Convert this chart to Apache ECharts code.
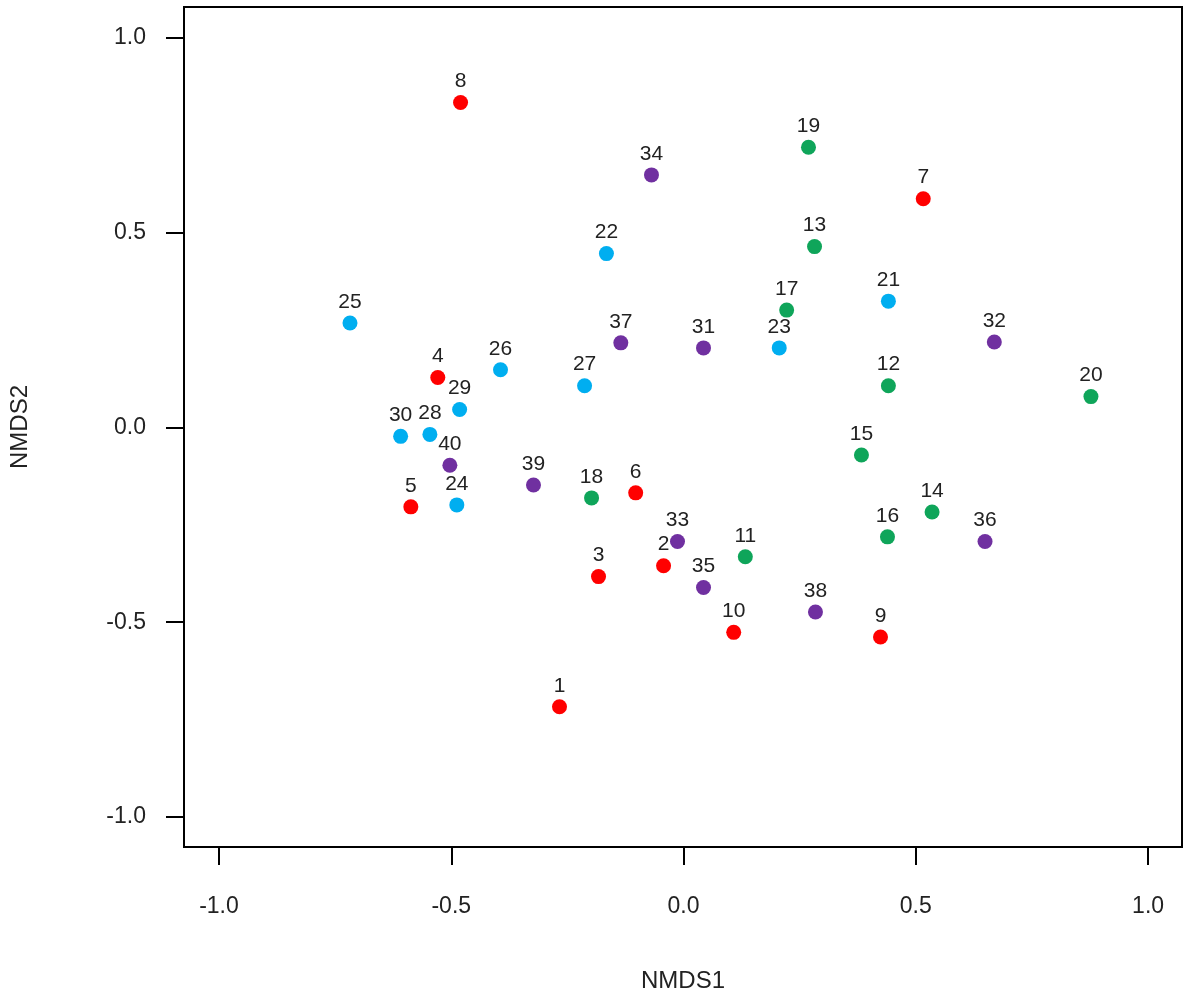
<!DOCTYPE html>
<html>
<head>
<meta charset="utf-8">
<script src="https://cdn.jsdelivr.net/npm/echarts@6/dist/echarts.min.js"></script>
<style>html,body{margin:0;background:#fff}#main{width:1183px;height:998px}</style>
</head>
<body>
<div id="main"></div>
<script>
// sample scores [NMDS1, NMDS2, label]
var groupRed = [[-0.267,-0.717,'1'],[-0.043,-0.355,'2'],[-0.183,-0.383,'3'],[-0.529,0.128,'4'],[-0.587,-0.204,'5'],
  [-0.103,-0.168,'6'],[0.516,0.587,'7'],[-0.48,0.834,'8'],[0.424,-0.538,'9'],[0.108,-0.526,'10']];
var groupGreen = [[0.133,-0.332,'11'],[0.441,0.107,'12'],[0.282,0.464,'13'],[0.535,-0.217,'14'],[0.383,-0.071,'15'],
  [0.439,-0.281,'16'],[0.222,0.301,'17'],[-0.198,-0.181,'18'],[0.269,0.719,'19'],[0.877,0.079,'20']];
var groupBlue = [[0.441,0.324,'21'],[-0.166,0.446,'22'],[0.206,0.204,'23'],[-0.488,-0.199,'24'],[-0.718,0.268,'25'],
  [-0.394,0.148,'26'],[-0.213,0.107,'27'],[-0.546,-0.018,'28'],[-0.482,0.046,'29'],[-0.609,-0.023,'30']];
var groupPurple = [[0.043,0.204,'31'],[0.669,0.219,'32'],[-0.013,-0.293,'33'],[-0.069,0.648,'34'],[0.043,-0.411,'35'],
  [0.649,-0.293,'36'],[-0.135,0.217,'37'],[0.284,-0.474,'38'],[-0.323,-0.148,'39'],[-0.503,-0.097,'40']];
var tickValues = [-1.0, -0.5, 0.0, 0.5, 1.0];

var font = 'Liberation Sans, Arial, sans-serif';
function mk(data, color) {
  return {
    type: 'scatter', data: data, symbolSize: 15,
    itemStyle: {color: color, opacity: 1},
    label: {show: true, position: 'top', distance: 3, color: '#222', fontSize: 21, fontFamily: font,
      formatter: function (p) { return p.value[2]; }}
  };
}
var axisCommon = {
  type: 'value', splitLine: {show: false}, axisLine: {show: false, onZero: false},
  nameTextStyle: {fontSize: 24, color: '#222', fontFamily: font}
};
var option = {
  animation: false,
  grid: {left: 183, top: 7, right: 1, bottom: 144, show: true, borderColor: '#000', borderWidth: 2},
  xAxis: Object.assign({}, axisCommon, {
    min: -1.0753, max: 1.073, name: 'NMDS1', nameLocation: 'middle', nameGap: 122,
    axisTick: {show: true, inside: false, length: 18, customValues: tickValues, lineStyle: {color: '#000', width: 2}},
    axisLabel: {customValues: tickValues, margin: 48, fontSize: 23, color: '#222', fontFamily: font,
      formatter: function (v) { return v.toFixed(1); }}
  }),
  yAxis: Object.assign({}, axisCommon, {
    min: -1.077, max: 1.079, name: 'NMDS2', nameLocation: 'middle', nameGap: 152,
    axisTick: {show: true, inside: false, length: 18, customValues: tickValues, lineStyle: {color: '#000', width: 2}},
    axisLabel: {customValues: tickValues, margin: 38, fontSize: 23, color: '#222', fontFamily: font,
      formatter: function (v) { return v.toFixed(1); }}
  }),
  series: [mk(groupRed, '#ff0000'), mk(groupGreen, '#0fa55a'), mk(groupBlue, '#00aef0'), mk(groupPurple, '#7030a0')]
};
var chart = echarts.init(document.getElementById('main'));
chart.setOption(option);
</script>
</body>
</html>
